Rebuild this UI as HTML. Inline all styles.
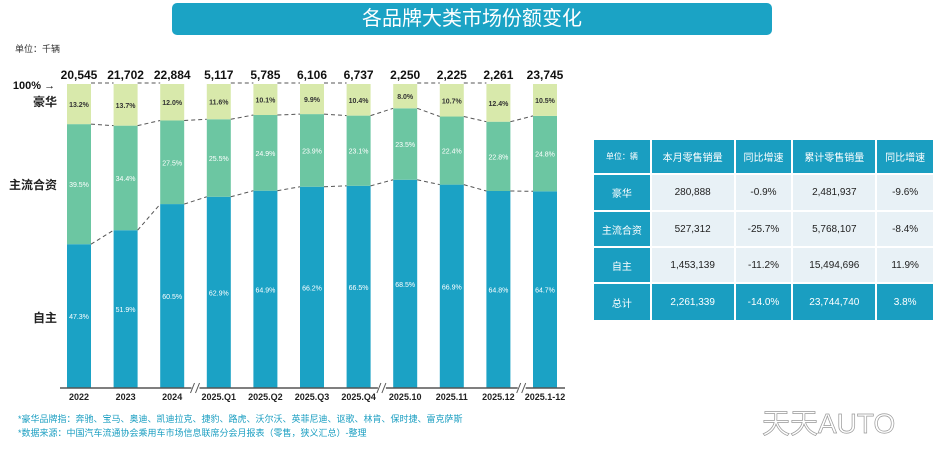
<!DOCTYPE html>
<html><head><meta charset="utf-8">
<style>
body{margin:0;width:944px;height:456px;background:#fff;position:relative;overflow:hidden;font-family:"Liberation Sans","Noto Sans CJK SC",sans-serif;}
.t{position:absolute;}
table{position:absolute;left:592px;top:138px;width:343px;height:184px;border-collapse:collapse;font-size:10px;text-align:center;}
td{border:2px solid #fff;}
.h{background:#1a9ec1;color:#fff;}
.c{background:#e8f1f6;color:#222;}
</style></head><body>
<div class="t" style="left:172px;top:3px;width:600px;height:32px;background:#1ba3c5;border-radius:5px;color:#fff;font-size:20px;line-height:32px;text-align:center;">各品牌大类市场份额变化</div>
<div class="t" style="left:15px;top:42px;font-size:9px;color:#333;">单位：千辆</div>
<svg id="chart" width="944" height="456" style="position:absolute;left:0;top:0"></svg>
<div class="t" style="left:18px;top:412px;font-size:9px;color:#1a9ec1;">*豪华品牌指：奔驰、宝马、奥迪、凯迪拉克、捷豹、路虎、沃尔沃、英菲尼迪、讴歌、林肯、保时捷、雷克萨斯</div>
<div class="t" style="left:18px;top:426px;font-size:9px;color:#1a9ec1;">*数据来源：中国汽车流通协会乘用车市场信息联席分会月报表（零售，狭义汇总）-整理</div>
<div class="t" style="left:762px;top:402px;font-size:28px;color:#fff;-webkit-text-stroke:0.7px #999;">天天AUTO</div>
<table>
<tr class="h" style="height:35px"><td style="font-size:8px">单位：辆</td><td>本月零售销量</td><td>同比增速</td><td>累计零售销量</td><td>同比增速</td></tr>
<tr style="height:37px"><td class="h">豪华</td><td class="c">280,888</td><td class="c">-0.9%</td><td class="c">2,481,937</td><td class="c">-9.6%</td></tr>
<tr style="height:36px"><td class="h">主流合资</td><td class="c">527,312</td><td class="c">-25.7%</td><td class="c">5,768,107</td><td class="c">-8.4%</td></tr>
<tr style="height:36px"><td class="h">自主</td><td class="c">1,453,139</td><td class="c">-11.2%</td><td class="c">15,494,696</td><td class="c">11.9%</td></tr>
<tr class="h" style="height:38px"><td>总计</td><td>2,261,339</td><td>-14.0%</td><td>23,744,740</td><td>3.8%</td></tr>
</table>
<script>
const categories=["2022","2023","2024","2025.Q1","2025.Q2","2025.Q3","2025.Q4","2025.10","2025.11","2025.12","2025.1-12"];
const totals=["20,545","21,702","22,884","5,117","5,785","6,106","6,737","2,250","2,225","2,261","23,745"];
const luxury=[13.2,13.7,12.0,11.6,10.1,9.9,10.4,8.0,10.7,12.4,10.5];
const jv=[39.5,34.4,27.5,25.5,24.9,23.9,23.1,23.5,22.4,22.8,24.8];
const domestic=[47.3,51.9,60.5,62.9,64.9,66.2,66.5,68.5,66.9,64.8,64.7];
const breaks=[2,6,9];
const svg=document.getElementById('chart');
const NS='http://www.w3.org/2000/svg';
const top0=84,bot=388,x0=79,step=46.6,bw=24;
const y=v=>top0+(100-v)/100*(bot-top0);
const xc=i=>x0+i*step;
function mk(t,a){const e=document.createElementNS(NS,t);for(const k in a)e.setAttribute(k,a[k]);svg.appendChild(e);return e;}
function txt(x,yy,s,size,fill,weight){const e=mk('text',{x:x,y:yy,'font-size':size,fill:fill,'text-anchor':'middle','font-weight':weight||'normal','font-family':'Liberation Sans, Noto Sans CJK SC, sans-serif'});e.textContent=s;return e;}
categories.forEach((c,i)=>{
 const x=xc(i)-bw/2;
 const d=domestic[i],j=jv[i],l=luxury[i];
 const r1=mk('rect',{x:x,y:y(d),width:bw,height:bot-y(d),fill:'#1ba2c5'});
 
 const r2=mk('rect',{x:x,y:y(d+j),width:bw,height:y(d)-y(d+j),fill:'#6cc6a2'});
 
 const r3=mk('rect',{x:x,y:top0,width:bw,height:y(d+j)-top0,fill:'#d8e9ab'});
 
 txt(xc(i),(top0+y(d+j))/2+3,l.toFixed(1)+'%',7,'#333','bold');
 txt(xc(i),(y(d)+y(d+j))/2+3,j.toFixed(1)+'%',7,'#fff');
 txt(xc(i),(y(d)+bot)/2+3,d.toFixed(1)+'%',7,'#fff');
 const tl=txt(xc(i),79,totals[i],12,'#111','bold');
 
 const xl=txt(xc(i),400,c,9,'#222','bold');
 
 if(i<categories.length-1){
  const x1=xc(i)+bw/2,x2=xc(i+1)-bw/2;
  [[d,domestic[i+1]],[d+j,domestic[i+1]+jv[i+1]]].forEach(p=>mk('line',{x1:x1,y1:y(p[0]),x2:x2,y2:y(p[1]),stroke:'#555','stroke-dasharray':'4,3','stroke-width':1}));
  if(breaks.indexOf(i)<0)mk('line',{x1:x1,y1:top0-1,x2:x2,y2:top0-1,stroke:'#555','stroke-dasharray':'4,3','stroke-width':1});
 }
});
mk('line',{x1:60,y1:bot,x2:565,y2:bot,stroke:'#555','stroke-width':1.5});
breaks.forEach(b=>{const bx=(xc(b)+xc(b+1))/2;
 mk('rect',{x:bx-4,y:bot-5,width:8,height:10,fill:'#fff'});
 mk('line',{x1:bx-5,y1:bot+5,x2:bx-1,y2:bot-5,stroke:'#555','stroke-width':1});
 mk('line',{x1:bx,y1:bot+5,x2:bx+4,y2:bot-5,stroke:'#555','stroke-width':1});});
const al=txt(34,89,'100% →',11,'#111','bold');
[['豪华',106],['主流合资',189],['自主',322]].forEach(a=>{const e=txt(0,a[1],a[0],12,'#222','bold');e.setAttribute('text-anchor','end');e.setAttribute('x',57);
});
</script>
</body></html>
